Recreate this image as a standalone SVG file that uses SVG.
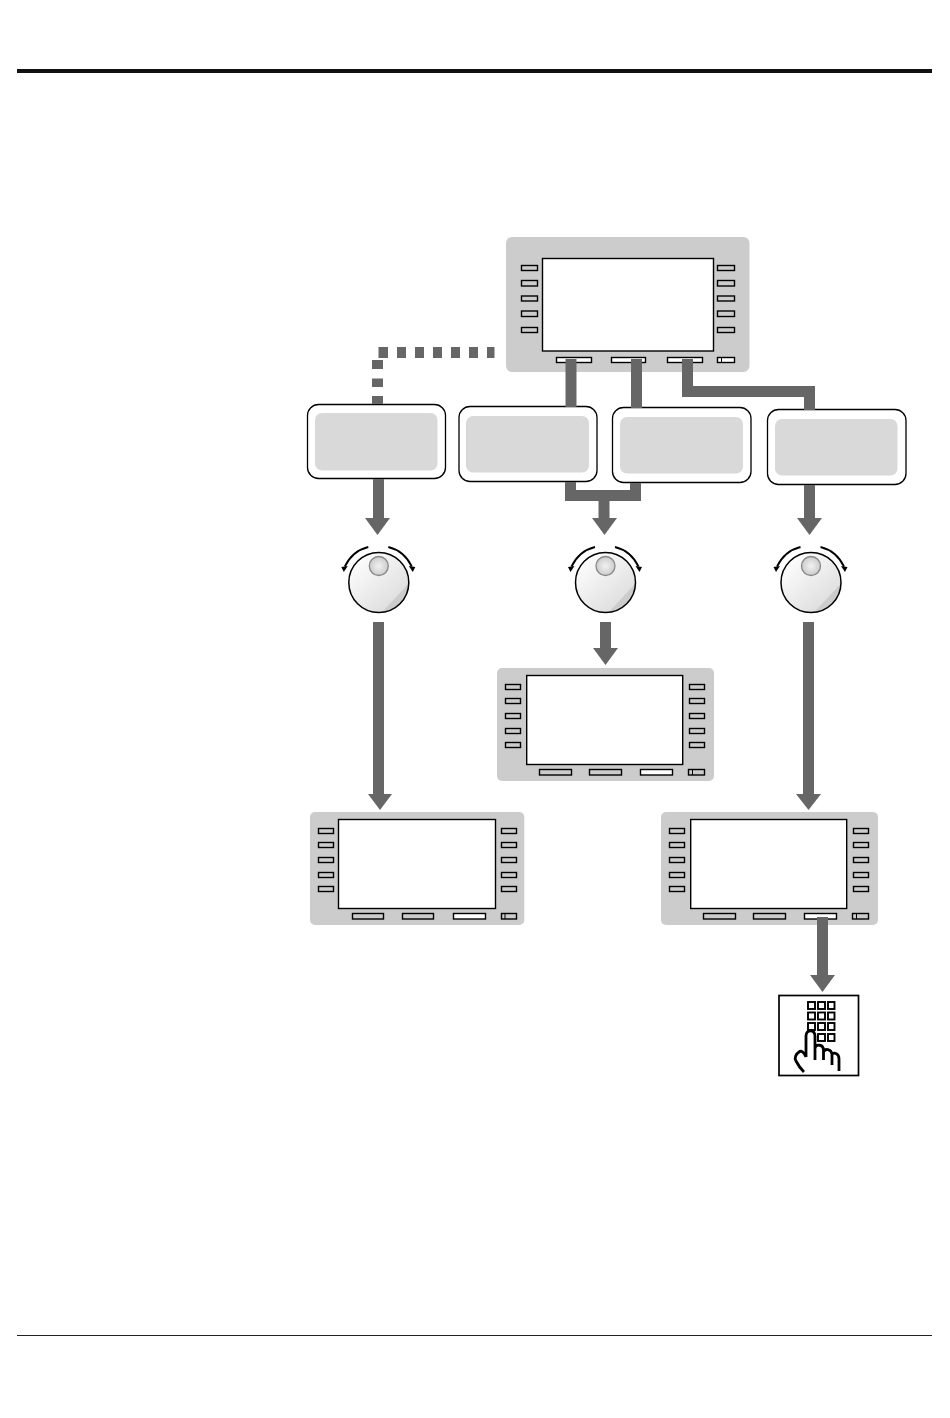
<svg xmlns="http://www.w3.org/2000/svg" width="950" height="1418" viewBox="0 0 950 1418">
<style>
.btn{fill:#ccc;stroke:#000;stroke-width:1.4}
.wbtn{fill:#fff;stroke:#000;stroke-width:1.4}
.scr{fill:#fff;stroke:#000;stroke-width:1.4}
.body{fill:#ccc}
.box{fill:#fff;stroke:#000;stroke-width:1.3}
.inner{fill:#d9d9d9}
.conn{fill:none;stroke:#666;stroke-width:11}
.head{fill:#666}
.arc{fill:none;stroke:#000;stroke-width:1.8}
.key{fill:#fff;stroke:#000;stroke-width:1.7}
.handfill{fill:#fff}
.hand{fill:none;stroke:#000;stroke-width:2.8;stroke-linejoin:round}
</style>
<defs>
<linearGradient id="kg" x1="0.15" y1="0.1" x2="0.85" y2="0.9"><stop offset="0" stop-color="#fdfdfd"/><stop offset="1" stop-color="#dcdcdc"/></linearGradient>
<radialGradient id="cap" cx="0.5" cy="0.5" r="0.6"><stop offset="0" stop-color="#f2f2f2"/><stop offset="1" stop-color="#c4c4c4"/></radialGradient>
<clipPath id="kc"><circle cx="0" cy="0" r="30"/></clipPath>
<g id="panel">
<rect class="body" x="661" y="812" width="217" height="113" rx="5"/>
<rect class="scr" x="690.7" y="819.5" width="156" height="89"/>
<rect class="btn" x="669.5" y="828.5" width="15" height="5"/>
<rect class="btn" x="669.5" y="842.5" width="15" height="5"/>
<rect class="btn" x="669.5" y="857.5" width="15" height="5"/>
<rect class="btn" x="669.5" y="872.5" width="15" height="5"/>
<rect class="btn" x="669.5" y="886.5" width="15" height="5"/>
<rect class="btn" x="853.5" y="828.5" width="15" height="5"/>
<rect class="btn" x="853.5" y="842.5" width="15" height="5"/>
<rect class="btn" x="853.5" y="857.5" width="15" height="5"/>
<rect class="btn" x="853.5" y="872.5" width="15" height="5"/>
<rect class="btn" x="853.5" y="886.5" width="15" height="5"/>
<rect class="btn" x="703.5" y="913.5" width="32" height="5.5"/>
<rect class="btn" x="753.5" y="913.5" width="32" height="5.5"/>
<rect class="wbtn" x="804.5" y="913.5" width="32" height="5.5"/>
<rect class="btn" x="852.5" y="913.5" width="16" height="5.5"/>
<path d="M856.5 913.5V919" stroke="#000" stroke-width="1"/>
</g>
<g id="knob">
<path class="arc" d="M-10.500 -35.500C-21 -33 -29 -26 -34 -16"/>
<path class="arc" d="M9.500 -35.500C20 -33 28 -26 33 -16"/>
<path d="M-37.500 -15.500L-31 -16.500L-35 -10.500Z"/>
<path d="M36.500 -15.500L30 -16.500L34 -10.500Z"/>
<circle r="30" fill="url(#kg)"/>
<path clip-path="url(#kc)" d="M30 1L2 31L30 31Z" fill="#ccc"/>
<circle r="30" fill="none" stroke="#000" stroke-width="1.5"/>
<circle cy="-16.500" r="9.500" fill="url(#cap)" stroke="#888" stroke-width="1.300"/>
</g>
</defs>

<g id="rules">
<rect x="17" y="69" width="915" height="4" fill="#111"/>
<rect x="17" y="1335" width="915" height="1" fill="#222"/>
</g>

<g id="main-panel">
<rect class="body" x="506" y="237" width="243.500" height="135" rx="6"/>
<rect class="scr" x="542.500" y="258.500" width="171" height="92.500"/>
<rect class="btn" x="521.500" y="265.500" width="16" height="5"/>
<rect class="btn" x="521.500" y="280.500" width="16" height="5.500"/>
<rect class="btn" x="521.500" y="296" width="16" height="5"/>
<rect class="btn" x="521.500" y="311" width="16" height="5.500"/>
<rect class="btn" x="521.500" y="327.500" width="16" height="5"/>
<rect class="btn" x="717.500" y="265.500" width="17" height="5"/>
<rect class="btn" x="717.500" y="280.500" width="17" height="5.500"/>
<rect class="btn" x="717.500" y="296" width="17" height="5"/>
<rect class="btn" x="717.500" y="311" width="17" height="5.500"/>
<rect class="btn" x="717.500" y="327.500" width="17" height="5"/>
<rect class="wbtn" x="556.500" y="357.500" width="35" height="5"/>
<rect class="wbtn" x="611.500" y="357.500" width="34" height="5"/>
<rect class="wbtn" x="667.500" y="357.500" width="35" height="5"/>
<rect class="wbtn" x="717.500" y="357.500" width="17" height="5"/>
<path d="M721.500 357.500V362.500" stroke="#000" stroke-width="1"/>
</g>

<g id="box-1"><rect class="box" x="307.500" y="404.500" width="138" height="74" rx="11"/><rect class="inner" x="315" y="413" width="122.500" height="57.500" rx="7"/></g>
<g id="box-2"><rect class="box" x="459" y="406.500" width="138" height="75" rx="11"/><rect class="inner" x="466" y="416" width="123" height="56.500" rx="7"/></g>
<g id="box-3"><rect class="box" x="612.500" y="407.500" width="138.500" height="75" rx="11"/><rect class="inner" x="620" y="417" width="123" height="56.500" rx="7"/></g>
<g id="box-4"><rect class="box" x="767.500" y="409.500" width="138.500" height="75" rx="11"/><rect class="inner" x="775" y="419" width="122.500" height="56.500" rx="7"/></g>

<g id="knob-1"><use href="#knob" x="378.800" y="582.500"/></g>
<g id="knob-2"><use href="#knob" x="605.500" y="582.500"/></g>
<g id="knob-3"><use href="#knob" x="811" y="582.500"/></g>

<g id="panel-2"><use href="#panel" x="-164" y="-144"/></g>
<g id="panel-1">
<rect class="body" x="310" y="812" width="214.300" height="113" rx="5"/>
<rect class="scr" x="338.500" y="819.500" width="157" height="89"/>
<rect class="btn" x="318.500" y="828.500" width="15" height="5"/>
<rect class="btn" x="318.500" y="842.500" width="15" height="5"/>
<rect class="btn" x="318.500" y="857.500" width="15" height="5"/>
<rect class="btn" x="318.500" y="872.500" width="15" height="5"/>
<rect class="btn" x="318.500" y="886.500" width="15" height="5"/>
<rect class="btn" x="501.500" y="828.500" width="15" height="5"/>
<rect class="btn" x="501.500" y="842.500" width="15" height="5"/>
<rect class="btn" x="501.500" y="857.500" width="15" height="5"/>
<rect class="btn" x="501.500" y="872.500" width="15" height="5"/>
<rect class="btn" x="501.500" y="886.500" width="15" height="5"/>
<rect class="btn" x="352.500" y="913.500" width="31" height="5.500"/>
<rect class="btn" x="402.500" y="913.500" width="31" height="5.500"/>
<rect class="wbtn" x="453.500" y="913.500" width="32" height="5.500"/>
<rect class="btn" x="501.500" y="913.500" width="15" height="5.500"/>
<path d="M505 913.500V919" stroke="#000" stroke-width="1"/>
</g>
<g id="panel-3"><use href="#panel"/></g>

<g id="keypad">
<rect class="key" x="779" y="995.500" width="79.500" height="80"/>
<g fill="#fff" stroke="#000" stroke-width="1.900">
<rect x="808" y="1002" width="7" height="7"/><rect x="818" y="1002" width="7" height="7"/><rect x="828" y="1002" width="6.500" height="7"/>
<rect x="808" y="1012.500" width="7" height="7"/><rect x="818" y="1012.500" width="7" height="7"/><rect x="828" y="1012.500" width="6.500" height="7"/>
<rect x="808" y="1023" width="7" height="7"/><rect x="818" y="1023" width="7" height="7"/><rect x="828" y="1023" width="6.500" height="7"/>
<rect x="818" y="1034" width="7" height="7"/><rect x="828" y="1034" width="6.500" height="7"/>
</g>
<path class="handfill" d="M806 1057V1036C806 1029 815 1029 815 1036V1048L823 1048V1052L831 1052V1055H839V1070H803L796 1062L800 1051L806 1054Z"/>
<path class="hand" d="M806 1057V1036C806 1029 815 1029 815 1036V1060M815 1048C816 1044 823 1044 823.500 1050V1060M823.500 1052C825 1048 831 1049 832 1054V1065M832 1054C835 1052 839 1054 839 1059V1071M806 1057C804 1052 801 1050 799 1052C796 1054 794 1058 796 1061C798 1065 801 1069 804 1072"/>
</g>

<g id="connectors">
<path class="conn" d="M378.500 352.500H388M397 352.500H406M415 352.500H424M433 352.500H442M451 352.500H460M469 352.500H478M487 352.500H494.500M377.500 360V369M377.500 378.500V387M377.500 396V404"/>
<path class="conn" d="M571 359V407"/>
<path class="conn" d="M636.500 359V408"/>
<path class="conn" d="M687.500 359V391.500H809.500V410"/>
<path class="conn" d="M378.500 479V519"/>
<path class="head" d="M365 518H390L377.500 535Z"/>
<path class="conn" d="M570.500 482V495.500H635.500V483"/>
<path class="conn" d="M604 501V519"/>
<path class="head" d="M592 518H617L604.500 535Z"/>
<path class="conn" d="M809.500 485V519"/>
<path class="head" d="M797 518H822L809.500 535Z"/>
<path class="conn" d="M378.500 622V795"/>
<path class="head" d="M368 794H392L380 810Z"/>
<path class="conn" d="M605.500 622V649"/>
<path class="head" d="M593 648H618L605.500 665Z"/>
<path class="conn" d="M808.500 622V795"/>
<path class="head" d="M796 794H821L808.500 810Z"/>
<path class="conn" d="M822.500 917V976"/>
<path class="head" d="M810 975H835L822.500 992Z"/>
</g>
</svg>
